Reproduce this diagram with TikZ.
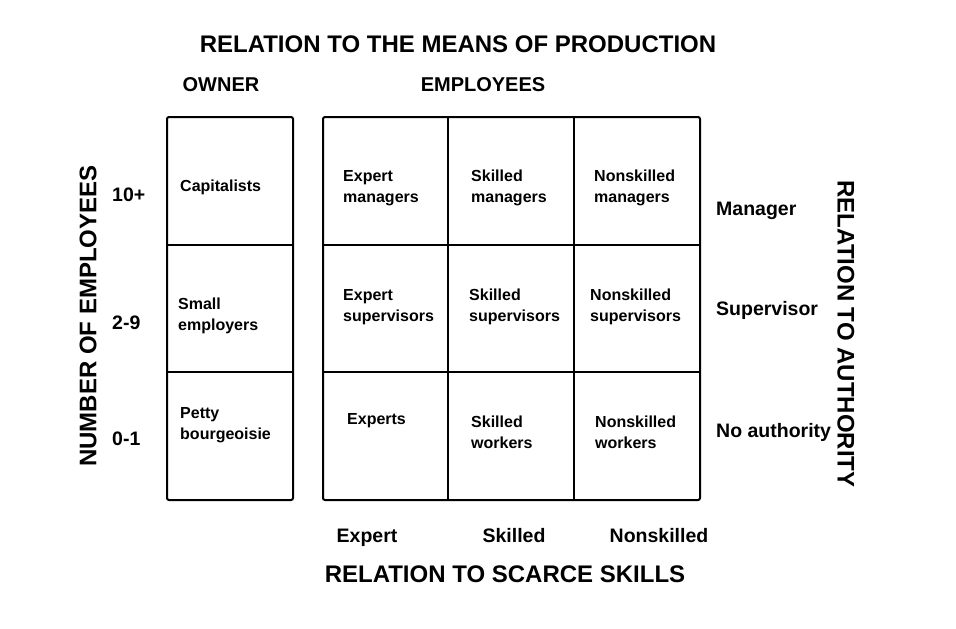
\documentclass[tikz,border=0pt]{standalone}
\usepackage{fontspec}
\setmainfont{Liberation Sans}
\begin{document}
\begin{tikzpicture}[x=1pt, y=-1pt,
    quadro/.style={line width=2pt, rounded corners=2pt},
    linha/.style={line width=1.8pt},
    celula/.style={anchor=west, align=left, inner sep=0pt, font=\bfseries\fontsize{16}{21}\selectfont},
    rotulo/.style={inner sep=0pt, font=\bfseries\fontsize{19.5}{23}\selectfont},
    titulo/.style={inner sep=0pt, font=\bfseries\fontsize{24}{28}\selectfont}]
\useasboundingbox (0,0) rectangle (956,629);
% Titulos
\node[titulo] (tmeios) at (458,44) {RELATION TO THE MEANS OF PRODUCTION};
\node[rotulo, font=\bfseries\fontsize{20}{24}\selectfont] (owner) at (221,85) {OWNER};
\node[rotulo, font=\bfseries\fontsize{20}{24}\selectfont] (empl) at (483,85) {EMPLOYEES};
% Quadro dos proprietarios
\draw[quadro] (167,117) rectangle (293,500);
\foreach \y in {245,372}
  \draw[linha] (167,\y) -- (293,\y);
% Quadro dos empregados
\draw[quadro] (323,117) rectangle (700,500);
\foreach \y in {245,372}
  \draw[linha] (323,\y) -- (700,\y);
\foreach \x in {448,574}
  \draw[linha] (\x,117) -- (\x,500);
% Celulas
\node[celula] (cap) at (180,187) {Capitalists};
\node[celula] (peq) at (178,316) {Small\\employers};
\node[celula] (pb) at (180,425) {Petty\\bourgeoisie};
\node[celula] (eman) at (343,188) {Expert\\managers};
\node[celula] (sman) at (471,188) {Skilled\\managers};
\node[celula] (nman) at (594,188) {Nonskilled\\managers};
\node[celula] (esup) at (343,307) {Expert\\supervisors};
\node[celula] (ssup) at (469,307) {Skilled\\supervisors};
\node[celula] (nsup) at (590,307) {Nonskilled\\supervisors};
\node[celula] (exp) at (347,421) {Experts};
\node[celula] (swork) at (471,432) {Skilled\\workers};
\node[celula] (nwork) at (595,432) {Nonskilled\\workers};
% Numero de empregados
\node[titulo, rotate=90] (nemp) at (88,316) {NUMBER OF EMPLOYEES};
\node[rotulo, anchor=west] (dez) at (112,195) {10+};
\node[rotulo, anchor=west] (dois) at (112,323) {2-9};
\node[rotulo, anchor=west] (zero) at (112,439) {0-1};
% Autoridade
\node[titulo, rotate=-90] (aut) at (846,334) {RELATION TO AUTHORITY};
\node[rotulo, anchor=west] (man) at (716,211) {Manager};
\node[rotulo, anchor=west] (sup) at (716,310) {Supervisor};
\node[rotulo, anchor=west] (noa) at (716,432) {No authority};
% Qualificacoes
\node[rotulo, anchor=base] (qexp) at (367,542) {Expert};
\node[rotulo, anchor=base] (qsk) at (514,542) {Skilled};
\node[rotulo, anchor=base] (qnon) at (659,542) {Nonskilled};
\node[titulo] (tqual) at (505,574) {RELATION TO SCARCE SKILLS};
\end{tikzpicture}
\end{document}
